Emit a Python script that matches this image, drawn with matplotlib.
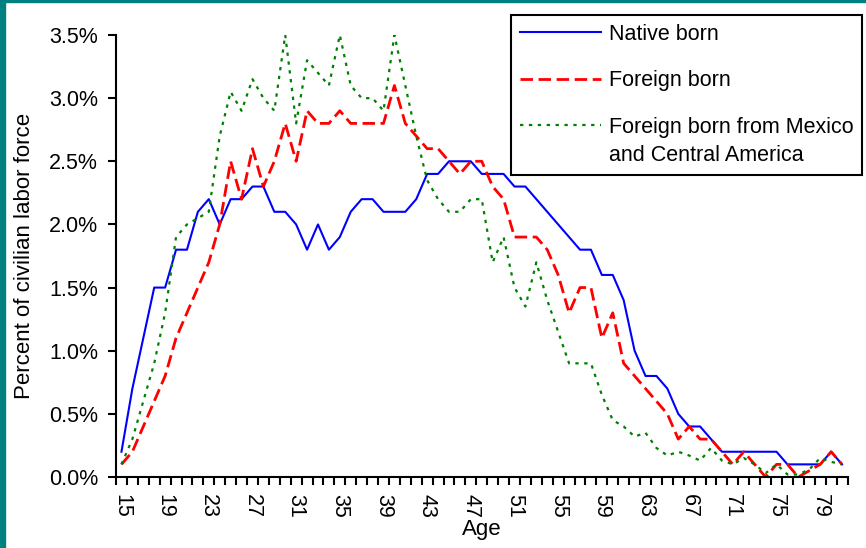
import matplotlib
matplotlib.use('Agg')
import matplotlib.pyplot as plt
from matplotlib.patches import Rectangle

# Data (percent of civilian labor force by single year of age)
ages = list(range(15, 82))

native = [0.2, 0.7, 1.1, 1.5, 1.5, 1.8, 1.8, 2.1, 2.2, 2.0, 2.2, 2.2, 2.3, 2.3, 2.1,
          2.1, 2.0, 1.8, 2.0, 1.8, 1.9, 2.1, 2.2, 2.2, 2.1, 2.1, 2.1, 2.2, 2.4,
          2.4, 2.5, 2.5, 2.5, 2.4, 2.4, 2.4, 2.3, 2.3, 2.2, 2.1, 2.0, 1.9, 1.8,
          1.8, 1.6, 1.6, 1.4, 1.0, 0.8, 0.8, 0.7, 0.5, 0.4, 0.4, 0.3, 0.2, 0.2,
          0.2, 0.2, 0.2, 0.2, 0.1, 0.1, 0.1, 0.1, 0.2, 0.1]

foreign = [0.1, 0.2, 0.4, 0.6, 0.8, 1.1, 1.3, 1.5, 1.7, 2.0, 2.5, 2.2, 2.6, 2.3, 2.5,
           2.8, 2.5, 2.9, 2.8, 2.8, 2.9, 2.8, 2.8, 2.8, 2.8, 3.1, 2.8, 2.7, 2.6,
           2.6, 2.5, 2.4, 2.5, 2.5, 2.3, 2.2, 1.9, 1.9, 1.9, 1.8, 1.6, 1.3, 1.5,
           1.5, 1.1, 1.3, 0.9, 0.8, 0.7, 0.6, 0.5, 0.3, 0.4, 0.3, 0.3, 0.2, 0.1,
           0.2, 0.1, 0.0, 0.1, 0.1, 0.0, 0.05, 0.1, 0.2, 0.1]

mexico = [0.1, 0.3, 0.6, 0.9, 1.3, 1.9, 2.0, 2.05, 2.1, 2.7, 3.05, 2.9, 3.15, 3.0, 2.9,
          3.5, 2.8, 3.3, 3.2, 3.1, 3.5, 3.1, 3.0, 3.0, 2.9, 3.5, 3.1, 2.7, 2.35,
          2.2, 2.1, 2.1, 2.2, 2.2, 1.7, 1.9, 1.5, 1.35, 1.7, 1.4, 1.15, 0.9, 0.9,
          0.9, 0.65, 0.45, 0.4, 0.32, 0.35, 0.23, 0.17, 0.2, 0.17, 0.13, 0.23, 0.13, 0.1,
          0.15, 0.1, 0.03, 0.1, 0.02, 0.02, 0.06, 0.15, 0.12, 0.1]

y_ticks = [0.0, 0.5, 1.0, 1.5, 2.0, 2.5, 3.0, 3.5]
y_labels = ['0.0%', '0.5%', '1.0%', '1.5%', '2.0%', '2.5%', '3.0%', '3.5%']

plt.rcParams['font.family'] = ['Liberation Sans', 'DejaVu Sans']

fig = plt.figure(figsize=(8.66, 5.48), dpi=100)
ax = fig.add_axes([116 / 866, 1 - 477 / 548, (847.5 - 116) / 866, (477 - 35) / 548])

x = list(range(len(ages)))
ax.plot(x, native, color='#0000ff', lw=1.5, label='Native born')
ax.plot(x, foreign, color='#ff0000', lw=2, ls=(0, (4.5, 2)), label='Foreign born')
ax.plot(x, mexico, color='#008000', lw=1.6, ls=(0, (1.5, 2.5)),
        label='Foreign born from Mexico\nand Central America')

ax.set_xlim(-0.5, len(ages) - 0.5)
ax.set_ylim(0, 3.5)

# y axis
ax.set_yticks(y_ticks)
ax.set_yticklabels(y_labels)
ax.tick_params(axis='y', direction='out', length=6, width=1.5, pad=7, labelsize=15.5)

# x axis: labels every 4 years, tick marks between categories
ax.set_xticks(x[::4])
ax.set_xticklabels([str(a) for a in ages[::4]], rotation=270)
ax.set_xticks([i - 0.5 for i in range(len(ages) + 1)], minor=True)
ax.tick_params(axis='x', which='major', length=0, pad=12, labelsize=15.5)
ax.tick_params(axis='x', which='minor', direction='out', length=6, width=1.5)

for s in ['top', 'right']:
    ax.spines[s].set_visible(False)
for s in ['left', 'bottom']:
    ax.spines[s].set_linewidth(1.5)

ax.set_xlabel('Age', fontsize=16, labelpad=1)
ax.set_ylabel('Percent of civilian labor force', fontsize=16, labelpad=10)

leg = ax.legend(loc='upper left', bbox_to_anchor=(511 / 866, 1 - 15 / 548),
                bbox_transform=fig.transFigure, fontsize=15.5, frameon=True,
                fancybox=False, framealpha=1, edgecolor='black', borderaxespad=0,
                handlelength=3.8, handletextpad=0.33, borderpad=0.4,
                labelspacing=1.2)
leg.get_frame().set_linewidth(1.5)
for t in leg.get_texts():
    t.set_linespacing(1.45)
# put the handle of the two-line entry next to its first line
for col in leg._legend_handle_box.get_children():
    items = col.get_children()
    items[-1].align = 'top'

# teal frame strips of the original slide
fig.patches.append(Rectangle((0, 0), 5 / 866, 1, transform=fig.transFigure,
                             color='#008080', zorder=0))
fig.patches.append(Rectangle((0, 1 - 2 / 548), 1, 2 / 548, transform=fig.transFigure,
                             color='#008080', zorder=0))

fig.savefig('out.png', dpi=100)
